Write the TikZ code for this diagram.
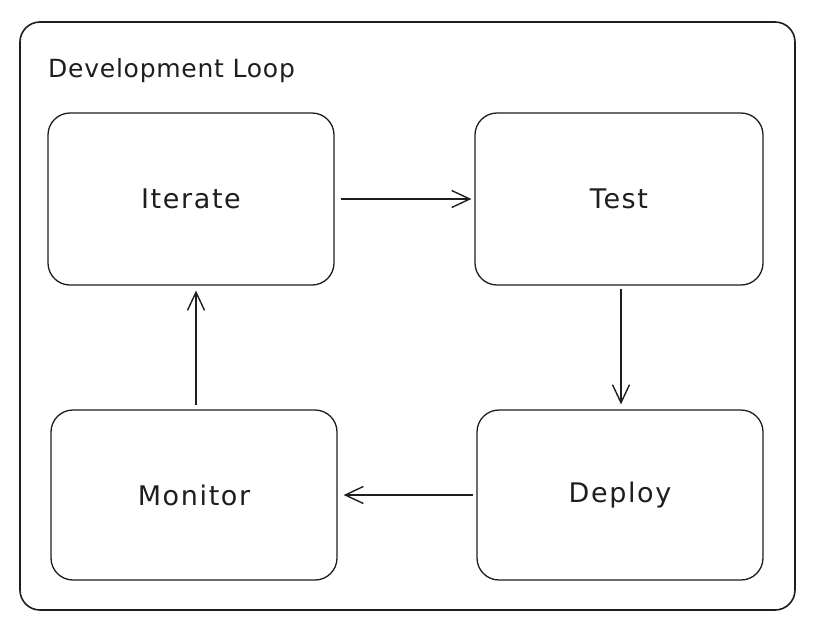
\documentclass[tikz,border=0pt]{standalone}
\usepackage{fontspec}
\setmainfont{DejaVu Sans}
\newfontfamily\handfont[LetterSpace=6]{DejaVu Sans}
\newfontfamily\titlefont[LetterSpace=3]{DejaVu Sans}
\usetikzlibrary{arrows.meta}
\definecolor{ink}{HTML}{1E1E1E}
\tikzset{
  stagebox/.style={draw=ink, line width=1.3pt, rounded corners=22pt, fill=white,
    minimum width=286pt, minimum height=172pt, inner sep=0pt,
    font=\handfont\fontsize{27}{32}\selectfont, text=ink},
  flow/.style={draw=ink, line width=1.4pt, -{Straight Barb[length=18pt,width=17pt,line width=1.4pt]}},
  titletext/.style={font=\titlefont\fontsize{25}{30}\selectfont, text=ink, inner sep=0pt}
}
\begin{document}
\begin{tikzpicture}[x=1pt,y=-1pt]
  \useasboundingbox (0,0) rectangle (818,632);
  \fill[white] (0,0) rectangle (818,632);
  \draw[ink, line width=1.6pt, rounded corners=20pt] (20,22) rectangle (795,610);
  \node[titletext, anchor=base west] (title) at (48,77) {Development Loop};
  \node[stagebox] (it) at (191,199) {Iterate};
  \node[stagebox, minimum width=288pt] (te) at (619,199) {Test};
  \node[stagebox, minimum height=170pt] (mo) at (194,495) {Monitor};
  \node[stagebox, minimum height=170pt] (de) at (620,495) {Deploy};
  \draw[flow, shorten <=6pt, shorten >=3pt] (it.east) -- (te.west);
  \draw[flow, shorten <=3pt, shorten >=5pt] ([xshift=2pt]te.south) -- ([xshift=1pt]de.north);
  \draw[flow, shorten <=3pt, shorten >=6pt] (de.west) -- (mo.east);
  \draw[flow, shorten <=4pt, shorten >=5pt] ([xshift=2pt]mo.north) -- ([xshift=2pt]mo.north |- it.south);
\end{tikzpicture}
\end{document}
